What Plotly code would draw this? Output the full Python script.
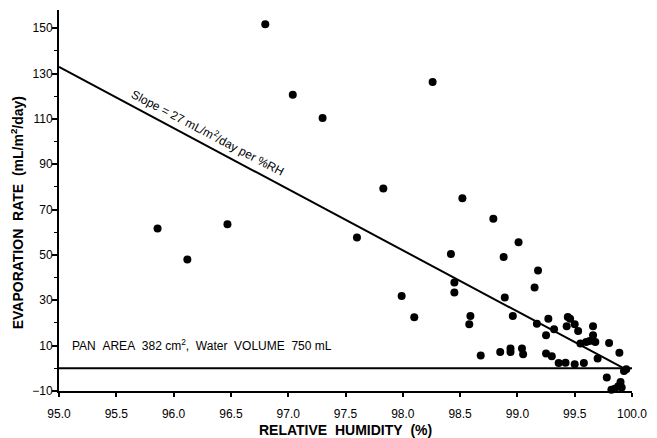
import plotly.graph_objects as go

# Relative humidity (%) and evaporation rate (mL/m2/day)
rh = [95.86, 96.12, 96.47, 96.80, 97.04, 97.30, 97.60, 97.83, 97.99, 98.10,
      98.26, 98.42, 98.45, 98.45, 98.52, 98.59, 98.58, 98.68, 98.79, 98.85,
      98.88, 98.89, 98.94, 98.94, 98.96, 99.01, 99.04, 99.05, 99.15, 99.18,
      99.17, 99.27, 99.32, 99.25, 99.25, 99.30, 99.36, 99.42, 99.44, 99.46,
      99.43, 99.50, 99.53, 99.50, 99.58, 99.55, 99.60, 99.63, 99.66, 99.66,
      99.68, 99.70, 99.80, 99.89, 99.95, 99.93, 99.78, 99.90, 99.88, 99.82,
      99.85, 99.91]
evap = [61.6, 48.0, 63.5, 151.7, 120.6, 110.4, 57.7, 79.3, 31.9, 22.5,
        126.2, 50.4, 37.8, 33.4, 75.0, 23.1, 19.4, 5.7, 65.9, 7.2,
        49.1, 31.2, 8.7, 7.2, 23.1, 55.6, 8.7, 6.2, 35.6, 43.1,
        19.7, 21.9, 17.2, 14.6, 6.5, 5.3, 2.4, 2.5, 22.6, 21.9,
        18.5, 19.4, 16.5, 1.8, 2.4, 10.9, 11.6, 12.1, 18.5, 14.6,
        11.6, 4.3, 11.2, 6.9, -0.4, -1.2, -4.1, -6.0, -7.9, -9.4,
        -9.0, -8.5]

# Regression line endpoints
reg_x = [95.0, 99.93]
reg_y = [132.9, 0.0]

x_ticks = [95.0, 95.5, 96.0, 96.5, 97.0, 97.5, 98.0, 98.5, 99.0, 99.5, 100.0]
x_labels = ["95.0", "95.5", "96.0", "96.5", "97.0", "97.5", "98.0", "98.5", "99.0", "99.5", "100.0"]
y_ticks = [-10, 10, 30, 50, 70, 90, 110, 130, 150]

FONT = "Arial, 'Liberation Sans', sans-serif"

fig = go.Figure()
fig.add_trace(go.Scatter(x=reg_x, y=reg_y, mode="lines",
                         line=dict(color="black", width=2), showlegend=False))
fig.add_trace(go.Scatter(x=rh, y=evap, mode="markers",
                         marker=dict(color="black", size=8), cliponaxis=False,
                         showlegend=False))

fig.add_shape(type="line", xref="paper", x0=0, x1=1, yref="y", y0=0, y1=0,
              line=dict(color="black", width=2))

fig.add_annotation(x=96.30, y=104.3, text="Slope = 27 mL/m<sup>2</sup>/day per %RH",
                   showarrow=False, textangle=27.7, xanchor="center", yanchor="middle",
                   font=dict(family=FONT, size=12, color="black"))
fig.add_annotation(x=95.1, y=10.2,
                   text="PAN&nbsp;&nbsp;AREA&nbsp;&nbsp;382 cm<sup>2</sup>,&nbsp;&nbsp;Water&nbsp;&nbsp;VOLUME&nbsp;&nbsp;750 mL",
                   showarrow=False, xanchor="left", yanchor="middle",
                   font=dict(family=FONT, size=12, color="black"))

# Axis titles
fig.add_annotation(xref="paper", x=-0.074, yref="y", y=68.6,
                   text="<b>EVAPORATION&nbsp;&nbsp;RATE&nbsp;&nbsp;(mL/m<sup>2</sup>/day)</b>",
                   showarrow=False, textangle=-90, xanchor="center", yanchor="middle",
                   font=dict(family=FONT, size=14, color="black"))
fig.add_annotation(xref="paper", x=0.5, yref="paper", y=-0.103,
                   text="<b>RELATIVE&nbsp;&nbsp;HUMIDITY&nbsp;&nbsp;(%)</b>",
                   showarrow=False, xanchor="center", yanchor="middle",
                   font=dict(family=FONT, size=14, color="black"))

fig.update_layout(
    width=657, height=438,
    margin=dict(l=59, r=17, t=10, b=47),
    plot_bgcolor="white", paper_bgcolor="white",
    font=dict(family=FONT, size=12, color="black"),
    xaxis=dict(range=[95.0, 100.0], tickvals=x_ticks, ticktext=x_labels,
               showgrid=False, zeroline=False, showline=True, linecolor="black",
               linewidth=2, ticks="outside", ticklen=4, tickwidth=1.5,
               tickcolor="black", tickfont=dict(size=12), ticklabelstandoff=7),
    yaxis=dict(range=[-10, 158], tickvals=y_ticks,
               showgrid=False, zeroline=False, showline=True, linecolor="black",
               linewidth=2, ticks="outside", ticklen=5, tickwidth=1.5,
               tickcolor="black", tickfont=dict(size=12), ticklabelstandoff=-3,
               minor=dict(tickvals=[0, 20, 40, 60, 80, 100, 120, 140],
                          ticks="outside", ticklen=3, tickcolor="black", tickwidth=1)),
)

fig.write_html("out.html")
